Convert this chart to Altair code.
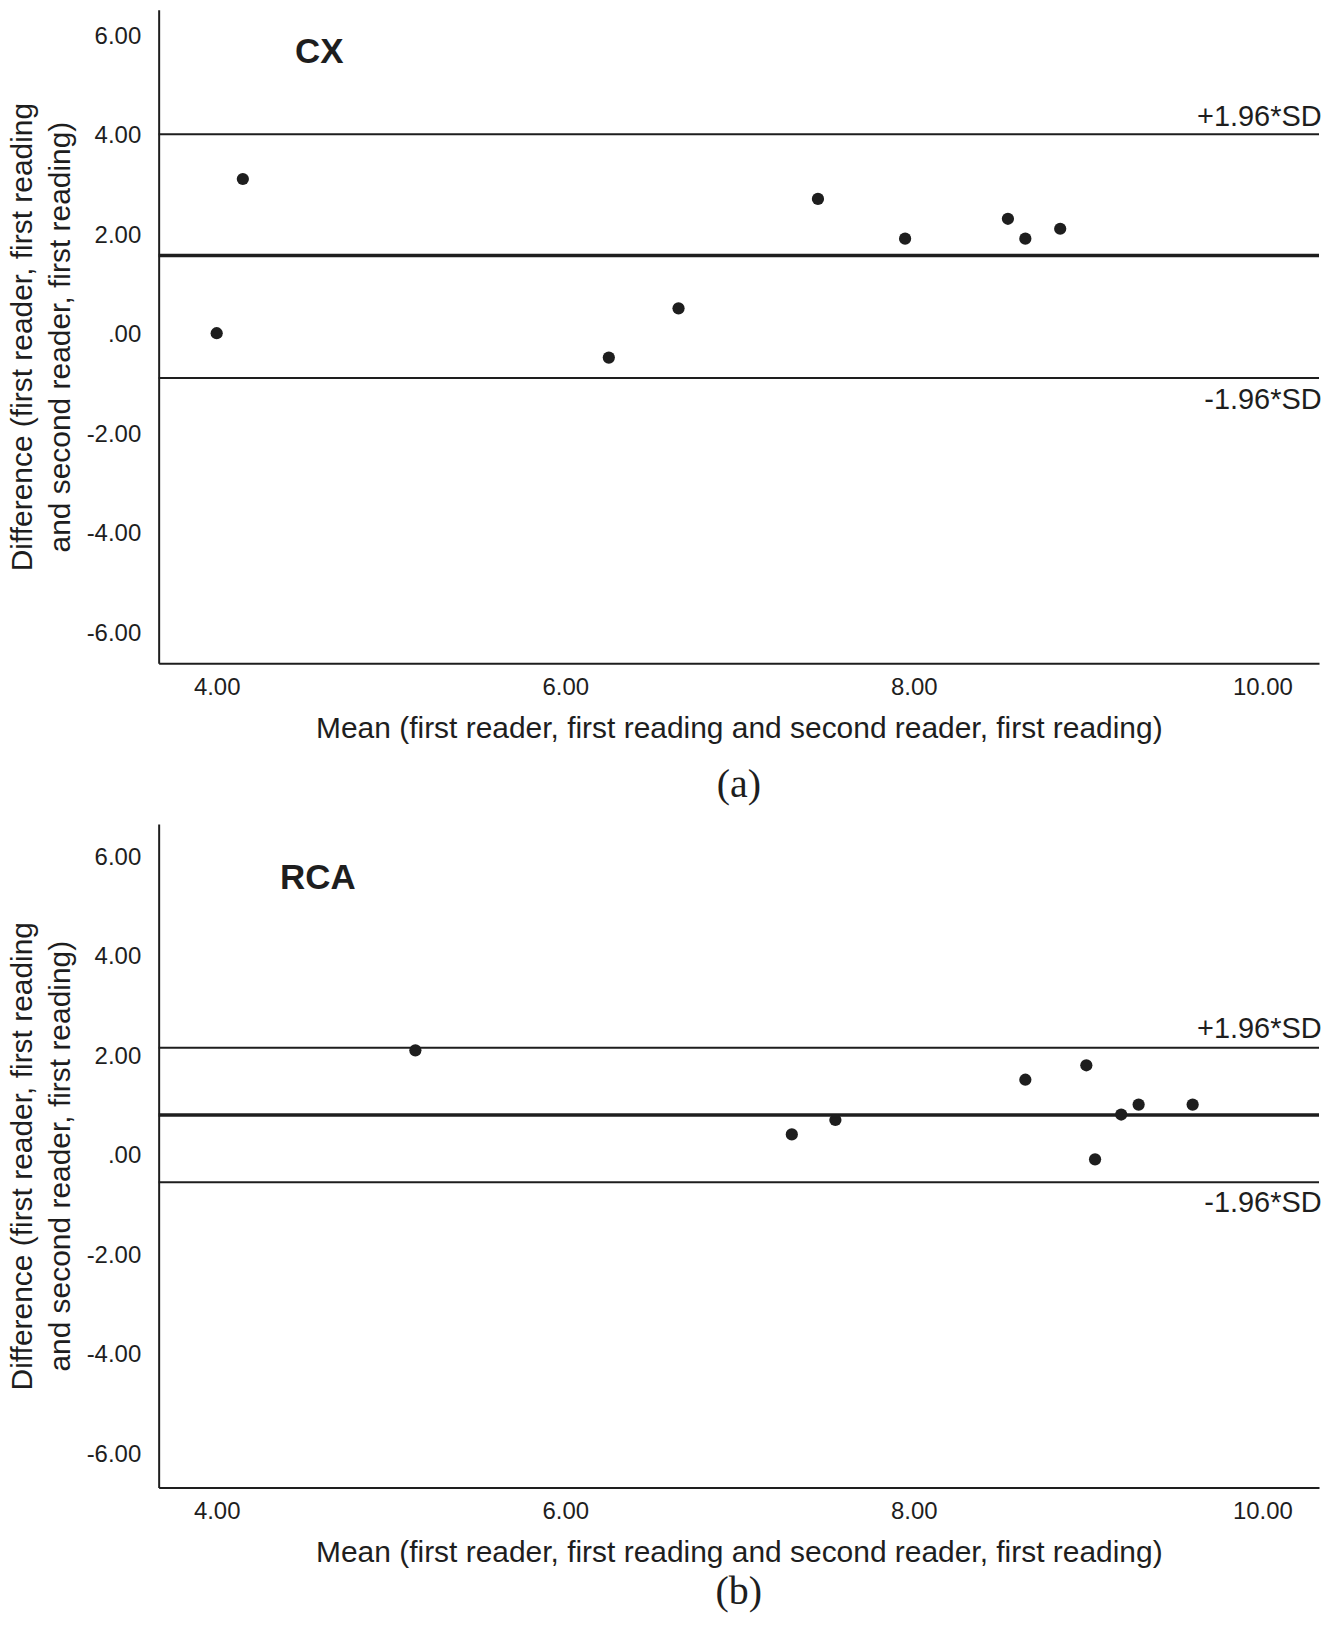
import altair as alt
import pandas as pd

# ---------------- data ----------------
x_ticks = [4.0, 6.0, 8.0, 10.0]
y_ticks = [-6.0, -4.0, -2.0, 0.0, 2.0, 4.0, 6.0]

# Panel (a): CX
cx_mean = [4.00, 4.15, 6.25, 6.65, 7.45, 7.95, 8.54, 8.64, 8.84]
cx_diff = [0.03, 3.13, -0.46, 0.53, 2.73, 1.93, 2.33, 1.93, 2.13]
cx_bias = 1.59
cx_upper = 4.03
cx_lower = -0.87

# Panel (b): RCA
rca_mean = [5.14, 7.30, 7.55, 8.64, 8.99, 9.04, 9.19, 9.29, 9.60]
rca_diff = [2.12, 0.43, 0.72, 1.53, 1.82, -0.07, 0.83, 1.03, 1.03]
rca_bias = 0.82
rca_upper = 2.17
rca_lower = -0.53

x_title = "Mean (first reader, first reading and second reader, first reading)"
y_title = ["Difference (first reader, first reading", "and second reader, first reading)"]

SANS = "Liberation Sans, Arial, Helvetica, sans-serif"
SERIF = "Liberation Serif, Times New Roman, serif"
INK = "#1e1e1e"
W = 1163


def panel(name, xs, ys, bias, upper, lower, caption, cap_offset, ydom, h,
          up_lab_y, lo_lab_y, name_xy):
    pts = pd.DataFrame({"m": xs, "d": ys})
    xsc = alt.Scale(domain=[3.667, 10.325], nice=False, zero=False)
    ysc = alt.Scale(domain=ydom, nice=False, zero=False)

    xax = alt.Axis(
        values=x_ticks, format=".2f", ticks=False, grid=False,
        domainColor=INK, domainWidth=2, labelFont=SANS, labelFontSize=24,
        labelColor=INK, labelPadding=12, title=x_title, titleFont=SANS,
        titleFontSize=30, titleFontWeight="normal", titleColor=INK, titlePadding=14,
    )
    yax = alt.Axis(
        values=y_ticks,
        labelExpr="datum.value == 0 ? '.00' : replace(format(datum.value, '.2f'), '\u2212', '-')",
        ticks=False, grid=False, domainColor=INK, domainWidth=2, labelFont=SANS,
        labelFontSize=24, labelColor=INK, labelPadding=18, title=y_title,
        titleFont=SANS, titleFontSize=30, titleFontWeight="normal", titleColor=INK,
        titleAngle=270, titleAlign="center", titleBaseline="middle",
        titleLineHeight=37.5, titleX=-136, titleY=h / 2,
    )

    dots = alt.Chart(pts).mark_circle(size=150, color=INK, opacity=1).encode(
        x=alt.X("m:Q", scale=xsc, axis=xax),
        y=alt.Y("d:Q", scale=ysc, axis=yax),
    )

    lim = pd.DataFrame({"v": [upper, lower]})
    limits = alt.Chart(lim).mark_rule(color=INK, strokeWidth=2).encode(
        y=alt.Y("v:Q", scale=ysc)
    )
    mean_rule = alt.Chart(pd.DataFrame({"v": [bias]})).mark_rule(color=INK, strokeWidth=3.5).encode(
        y=alt.Y("v:Q", scale=ysc)
    )

    labs = pd.DataFrame({"t": ["+1.96*SD", "-1.96*SD"], "x": [10.34, 10.34], "y": [up_lab_y, lo_lab_y]})
    sd_text = alt.Chart(labs).mark_text(
        align="right", baseline="middle", font=SANS, fontSize=29, color=INK
    ).encode(x=alt.X("x:Q", scale=xsc), y=alt.Y("y:Q", scale=ysc), text="t:N")

    nm = pd.DataFrame({"t": [name], "x": [name_xy[0]], "y": [name_xy[1]]})
    name_text = alt.Chart(nm).mark_text(
        align="center", baseline="middle", font=SANS, fontSize=35, fontWeight="bold", color=INK
    ).encode(x=alt.X("x:Q", scale=xsc), y=alt.Y("y:Q", scale=ysc), text="t:N")

    return alt.layer(limits, mean_rule, dots, sd_text, name_text).properties(
        width=W, height=h,
        title=alt.TitleParams(
            caption, orient="bottom", anchor="middle", font=SERIF, fontSize=40,
            fontWeight="normal", color=INK, offset=cap_offset,
        ),
    )


pa = panel("CX", cx_mean, cx_diff, cx_bias, cx_upper, cx_lower, "(a)", 22,
           [-6.605, 6.53], 655, 4.37, -1.31, (4.588, 5.68))
pb = panel("RCA", rca_mean, rca_diff, rca_bias, rca_upper, rca_lower, "(b)", 5,
           [-6.665, 6.67], 665, 2.54, -0.94, (4.58, 5.585))

chart = alt.vconcat(pa, pb, spacing=161, bounds="flush").properties(
    padding=0,
    background="white",
).configure_view(stroke=None)

chart.save("out.html", embed_options={"renderer": "svg", "actions": False})
